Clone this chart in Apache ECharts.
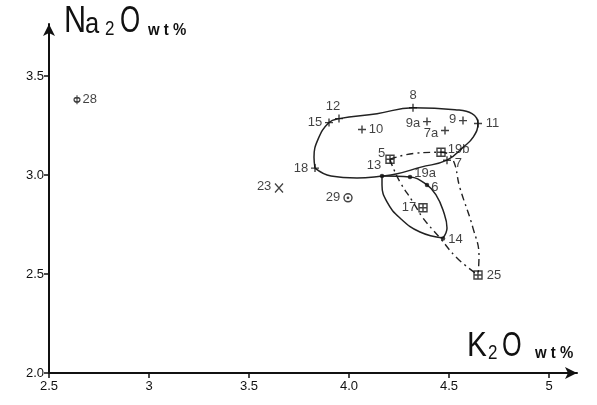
<!DOCTYPE html>
<html>
<head>
<meta charset="utf-8">
<script src="https://cdn.jsdelivr.net/npm/echarts@6/dist/echarts.min.js"></script>
<style>
  html, body { margin: 0; padding: 0; background: #fff; }
  #chart { width: 597px; height: 405px; }
</style>
</head>
<body>
<div id="chart"></div>
<script>
// Sample numbers, K2O and Na2O (wt%)
const samples = ['28', '23', '29', '8', '12', '15', '10', '9a', '7a', '9', '11', '19b', '7', '5', '18', '13', '19a', '6', '17', '14', '25'];
const k2o  = [2.64, 3.65, 3.995, 4.32, 3.95, 3.90, 4.065, 4.39, 4.48, 4.57, 4.645, 4.46, 4.49, 4.205, 3.83, 4.165, 4.305, 4.39, 4.37, 4.47, 4.645];
const na2o = [3.38, 2.935, 2.885, 3.34, 3.285, 3.265, 3.23, 3.27, 3.225, 3.275, 3.26, 3.115, 3.075, 3.08, 3.035, 2.995, 2.99, 2.95, 2.835, 2.68, 2.495];
// Rock group of each sample (sets the marker)
const group = ['phi', 'cross', 'ring', 'plus', 'plus', 'plus', 'plus', 'plus', 'plus', 'plus', 'plus', 'grid', 'plus', 'grid', 'plus', 'dot', 'dot', 'dot', 'grid', 'dot', 'grid'];

// Tick labels
const xTicks = [2.5, 3, 3.5, 4, 4.5, 5];
const xTickText = ['2.5', '3', '3.5', '4.0', '4.5', '5'];
const yTicks = [2.0, 2.5, 3.0, 3.5];
const yTickText = ['2.0', '2.5', '3.0', '3.5'];

// Field outlines [K2O, Na2O]
const outerField = [
  [3.83, 3.035], [3.825, 3.09], [3.845, 3.18], [3.90, 3.265], [3.95, 3.285], [4.14, 3.31],
  [4.32, 3.34], [4.53, 3.33], [4.615, 3.31], [4.645, 3.26], [4.62, 3.19], [4.57, 3.14],
  [4.49, 3.075], [4.36, 3.04], [4.235, 3.005], [4.165, 2.995], [4.04, 2.985], [3.91, 2.995], [3.83, 3.035]
];
// Small field: two arcs from sample 13 to sample 14
const innerRight = [
  [4.165, 2.995], [4.305, 2.99], [4.39, 2.95], [4.435, 2.9], [4.47, 2.823], [4.49, 2.732], [4.47, 2.682]
];
const innerLeft = [
  [4.165, 2.995], [4.165, 2.95], [4.19, 2.864], [4.255, 2.783], [4.355, 2.712], [4.47, 2.682]
];
// Dash-dot field: two arcs from sample 5 to sample 25
const dashedRight = [
  [4.205, 3.08], [4.33, 3.11], [4.46, 3.115], [4.515, 3.086], [4.555, 2.934], [4.62, 2.732],
  [4.65, 2.59], [4.645, 2.495]
];
const dashedLeft = [
  [4.205, 3.08], [4.215, 3.05], [4.255, 2.965], [4.32, 2.864], [4.37, 2.783], [4.455, 2.682],
  [4.54, 2.581], [4.645, 2.495]
];

// Marker shapes
const markerStyle = {
  plus:  { symbol: 'path://M4,0 L4,8 M0,4 L8,4', size: 8, fill: false },
  grid:  { symbol: 'path://M0,0 L8,0 L8,8 L0,8 Z M4,0 L4,8 M0,4 L8,4', size: 8, fill: false },
  dot:   { symbol: 'circle', size: 4.5, fill: true },
  ring:  { symbol: 'path://M8,4 A4,4 0 1 1 0,4 A4,4 0 1 1 8,4 Z M4.7,4 A0.7,0.7 0 1 1 3.3,4 A0.7,0.7 0 1 1 4.7,4 Z', size: 8, fill: false },
  phi:   { symbol: 'path://M3,0 L3,10 M3,2.5 C0.3,2.5 0.3,7.5 3,7.5 C5.7,7.5 5.7,2.5 3,2.5 Z', size: [6, 9], fill: false },
  cross: { symbol: 'path://M0,0 L8,9 M8,0 L0,9', size: [8, 9], fill: false }
};

// Label side for each sample
const labelSide = {
  '28': ['right', [0, 0]], '23': ['left', [-1, -1]], '29': ['left', [-1, 0]], '8': ['top', [0, 1]],
  '12': ['top', [-6, 1]], '15': ['left', [0, 0]], '10': ['right', [0, 0]], '9a': ['left', [0, 2]],
  '7a': ['left', [0, 3]], '9': ['left', [0, -1]], '11': ['right', [1, 0]], '19b': ['right', [0, -3]],
  '7': ['right', [1, 3]], '5': ['left', [2, -6]], '18': ['left', [0, 0]], '13': ['top', [-8, 0]],
  '19a': ['right', [0, -4]], '6': ['right', [0, 2]], '17': ['left', [0, 0]], '14': ['right', [1, 1]],
  '25': ['right', [2, 0]]
};

const FONT = '"Liberation Sans", Arial, sans-serif';

const points = samples.map((name, i) => {
  const m = markerStyle[group[i]];
  const side = labelSide[name];
  return {
    name: name,
    value: [k2o[i], na2o[i]],
    symbol: m.symbol,
    symbolSize: m.size,
    itemStyle: m.fill
      ? { color: '#111', borderWidth: 0 }
      : { color: 'rgba(0,0,0,0)', borderColor: '#111', borderWidth: 1.4 },
    label: {
      show: true, formatter: name, position: side[0], offset: side[1], distance: 2,
      color: '#111', fontSize: 13, fontFamily: FONT
    }
  };
});

function fieldLine(data, dash, width) {
  return {
    type: 'line', data: data, smooth: 0.45, symbol: 'none', silent: true, z: 1,
    lineStyle: { color: '#222', width: width, type: dash }
  };
}

const chart = echarts.init(document.getElementById('chart'), null, { renderer: 'canvas' });

function bigText(x, y, t, size, sx, weight) {
  return {
    type: 'text', x: x, y: y, scaleX: sx, silent: true,
    style: { text: t, fontSize: size, fontFamily: FONT, fontWeight: weight || 'normal', fill: '#111', verticalAlign: 'bottom' }
  };
}

const dashDot = [7, 4, 2, 4];

chart.setOption({
  backgroundColor: '#fff',
  animation: false,
  grid: { left: 49, right: 20, top: 24, bottom: 32 },
  xAxis: {
    type: 'value', min: 2.5, max: 5.14,
    splitLine: { show: false },
    axisLine: { lineStyle: { color: '#111', width: 2 }, symbol: ['none', 'arrow'], symbolSize: [9, 12] },
    axisTick: { customValues: xTicks, length: 5, lineStyle: { color: '#111', width: 1.5 } },
    axisLabel: {
      customValues: xTicks, color: '#111', fontSize: 13, fontFamily: FONT, margin: 7,
      formatter: v => xTickText[xTicks.findIndex(t => Math.abs(t - v) < 1e-6)]
    }
  },
  yAxis: {
    type: 'value', min: 2.0, max: 3.763,
    splitLine: { show: false },
    axisLine: { lineStyle: { color: '#111', width: 2 }, symbol: ['none', 'arrow'], symbolSize: [9, 12] },
    axisTick: { customValues: yTicks, length: 5, lineStyle: { color: '#111', width: 1.5 } },
    axisLabel: {
      customValues: yTicks, color: '#111', fontSize: 13, fontFamily: FONT, margin: 5,
      formatter: v => yTickText[yTicks.findIndex(t => Math.abs(t - v) < 1e-6)]
    }
  },
  graphic: [
    // Na2O wt%
    bigText(64, 40, 'N', 36, 0.85),
    bigText(85, 40, 'a', 30, 0.85),
    bigText(105, 39, '2', 20, 0.85),
    bigText(120, 40, 'O', 36, 0.72),
    bigText(148, 39, 'w t %', 17, 0.88, 'bold'),
    // K2O wt%
    bigText(467, 364, 'K', 35, 0.85),
    bigText(488, 363, '2', 20, 0.85),
    bigText(502, 364, 'O', 35, 0.72),
    bigText(535, 362, 'w t %', 17, 0.88, 'bold')
  ],
  series: [
    fieldLine(outerField, 'solid', 1.5),
    fieldLine(innerRight, 'solid', 1.5),
    fieldLine(innerLeft, 'solid', 1.5),
    fieldLine(dashedRight, dashDot, 1.4),
    fieldLine(dashedLeft, dashDot, 1.4),
    { type: 'scatter', data: points, z: 3 }
  ]
});
</script>
</body>
</html>
